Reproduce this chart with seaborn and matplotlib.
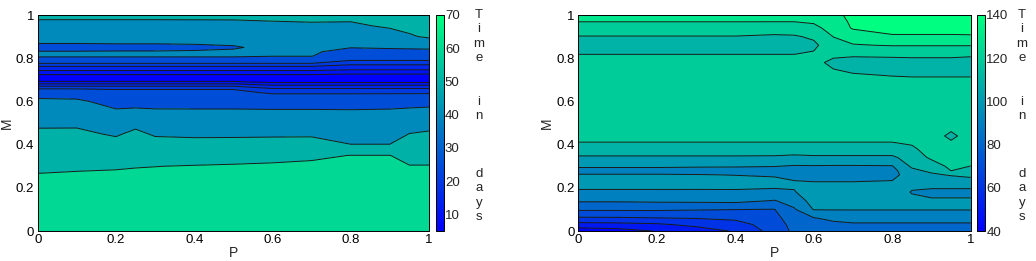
import numpy as np
import matplotlib
matplotlib.use("Agg")
import matplotlib.pyplot as plt
import seaborn as sns
from matplotlib.colors import Normalize
from matplotlib.cm import ScalarMappable

# ---------------------------------------------------------------
# Datos: tiempo (dias) sobre la malla P x M
# ---------------------------------------------------------------
# Panel izquierdo
p_left = [0, 0.1, 0.2, 0.25, 0.3, 0.4, 0.5, 0.6, 0.7, 0.8, 0.9, 0.95, 1.0]
m_left = [0, 0.15, 0.25, 0.3, 0.35, 0.4, 0.45, 0.5, 0.55, 0.6, 0.64, 0.66, 0.675,
          0.69, 0.71, 0.73, 0.75, 0.77, 0.79, 0.81, 0.83, 0.85, 0.87, 0.9, 0.95, 1.0]
# una lista por columna de P (valores de abajo hacia arriba en M)
time_left = [
    [70, 64.4, 60.7, 58.6, 56.2, 53.8, 51.4, 48.7, 45.4, 42.2, 35.6, 23.9, 18.2, 10.6, 6, 11.7, 16.8, 22, 31.6, 42, 40.5, 36, 40.4, 43, 47.4, 52],
    [70, 64.6, 61.1, 59, 56.5, 54, 51.5, 48.7, 45.3, 42, 34.4, 23.9, 18.2, 10.6, 6, 11.7, 16.8, 22, 31.6, 42, 40.5, 36, 40.4, 43, 47.4, 52],
    [70, 64.8, 61.4, 59.3, 55.9, 52.5, 49.1, 45.5, 41.9, 35.7, 28.2, 23.9, 18.2, 10.6, 6, 11.7, 16.8, 22, 31.6, 42, 40.6, 37, 40.6, 43, 47.4, 52],
    [70, 64.9, 61.5, 59.7, 57, 54.3, 51.6, 47.9, 42.8, 35.7, 28.2, 23.9, 18.2, 10.6, 6, 11.7, 16.8, 22, 31.6, 42, 40.6, 37, 40.6, 43, 47.4, 52],
    [70, 65, 61.7, 59.9, 56.1, 52.7, 49.1, 45.5, 41.9, 35.7, 28.2, 23.9, 18.2, 10.6, 6, 11.7, 16.8, 22, 31.6, 42, 40.6, 37, 40.6, 43, 47.4, 52],
    [70, 65.2, 61.9, 60.3, 56.7, 52.5, 48.6, 45.2, 41.8, 35.7, 28.2, 23.9, 18.2, 10.6, 6, 11.7, 16.8, 22, 31.6, 42, 41, 37.5, 41, 43.2, 47.5, 52],
    [70, 65.3, 62.2, 60.6, 57.3, 52.7, 48.6, 45.2, 41.8, 35.7, 28.2, 23.9, 18.2, 10.6, 6, 11.7, 16.8, 22, 31.6, 42, 41.5, 39, 41.5, 43.5, 47.6, 52],
    [70, 65.5, 62.4, 60.9, 58, 53, 48.7, 45.3, 42, 34.3, 23.7, 19.9, 14.9, 9, 6, 11.7, 16.8, 22, 31.6, 40.4, 41.5, 42.7, 43.9, 45.6, 48.5, 52],
    [70, 65.6, 62.6, 61.2, 58.9, 53.3, 48.7, 45.3, 42, 34.3, 23.7, 19.9, 14.9, 9, 6, 11.7, 16.8, 22, 31.6, 40.4, 41.5, 42.7, 43.9, 45.6, 49, 52],
    [70, 65.7, 62.9, 61.4, 60.1, 50.1, 47.2, 44.4, 41.7, 34.3, 23.7, 19.9, 14.9, 9, 6, 10.8, 16, 20.1, 25.1, 30.5, 35.9, 40.4, 42.1, 44.6, 48.8, 52],
    [70, 65.8, 63, 61.5, 60.1, 50.1, 47.3, 44.6, 41.9, 35.3, 23.7, 19.9, 14.9, 9, 6, 10.8, 16, 20.1, 25.1, 31, 37, 41.1, 43.3, 46.7, 51, 52],
    [70, 65.2, 61.9, 60.3, 57.3, 53.7, 50.1, 46.4, 42.7, 35.8, 23.7, 19.9, 14.9, 9, 6, 10.8, 16, 20.1, 25.1, 31, 37, 41.5, 44.6, 49.2, 52, 52],
    [70, 65.2, 61.9, 60.3, 57.4, 54.2, 51, 47.2, 43.2, 36.5, 23.7, 19.9, 14.9, 9, 6, 10.8, 16, 20.1, 25.1, 31, 37, 42, 46, 51, 52, 52],
]
levels_left = [5, 10, 15, 20, 25, 40, 50, 60, 71]
cbar_ticks_left = [10, 20, 30, 40, 50, 60, 70]
crange_left = (5, 70)

# Panel derecho
p_right = [0, 0.1, 0.2, 0.3, 0.4, 0.5, 0.55, 0.6, 0.65, 0.7, 0.8, 0.85, 0.9, 0.95, 1.0]
m_right = [0, 0.03, 0.06, 0.1, 0.14, 0.18, 0.22, 0.26, 0.28, 0.3, 0.34, 0.38, 0.44,
           0.5, 0.6, 0.7, 0.74, 0.78, 0.82, 0.86, 0.9, 0.94, 0.97, 1.0]
time_right = [
    [44, 56.3, 68.8, 81.5, 91.2, 98.2, 104, 100.5, 97, 101.3, 108.4, 116.7, 123, 125, 125, 125, 125, 123.5, 119.8, 116, 119.6, 126, 130.2, 132],
    [46, 57, 69, 81.5, 91.2, 98.2, 104, 100.5, 97, 101.3, 108.4, 116.7, 123, 125, 125, 125, 125, 123.5, 119.8, 116, 119.6, 126, 130.2, 132],
    [50.5, 58.5, 69.8, 81.5, 91.7, 98.2, 104, 100.5, 97, 101.3, 108.4, 116.7, 123, 125, 125, 125, 125, 123.5, 119.8, 116, 119.6, 126, 130.2, 132],
    [55, 62.6, 70.5, 80.8, 92, 98.4, 103.5, 100.3, 96.5, 101, 108.4, 116.7, 123, 125, 125, 125, 125, 123.5, 119.8, 116, 119.6, 126, 130.2, 132],
    [61, 66, 72, 80.2, 92.6, 98.5, 103.5, 99.8, 96.5, 100.8, 108.4, 116.7, 123, 125, 125, 125, 125, 123.5, 119.8, 116, 119.6, 126, 130.2, 132],
    [74, 75, 77, 79.8, 89.5, 97.6, 103.2, 99, 96.5, 100.3, 108.2, 116.7, 123, 125, 125, 125, 125, 123.5, 119.8, 116, 118.5, 125, 130.2, 132],
    [82, 83.5, 85.5, 89, 94, 99.4, 101.5, 97, 96, 99.3, 107, 116.7, 123, 125, 125, 125, 125, 123.5, 119.8, 116, 119, 125, 130.2, 132],
    [84, 86.5, 89.6, 100.5, 104, 105, 101, 96, 96, 99.4, 108, 116.7, 123, 125, 125, 125, 125, 123.5, 121, 118, 121.5, 128, 131, 132],
    [85, 88, 92, 100.5, 104, 105, 101, 96, 96, 99.2, 108, 116.7, 123, 125, 125, 125, 121, 117, 123, 126, 130.2, 133, 135, 138],
    [86, 89, 93, 100.5, 104, 105, 101, 96, 96, 99.2, 108, 116.7, 123, 125, 125, 123, 119, 116, 122, 129.4, 134, 141, 142, 142],
    [86, 89, 93, 100.5, 104, 105, 101.5, 97, 97, 99.5, 108, 116.7, 123, 125, 125, 121.5, 118, 117, 122, 130.5, 139.5, 141.5, 142, 142],
    [86, 89, 93, 100.5, 102, 99.5, 102, 105, 108, 111.5, 115, 118.8, 123, 125, 125, 121, 118, 117.5, 122, 130.5, 139.5, 141.5, 142, 142],
    [86, 89, 93, 100.5, 101, 98, 103, 108.5, 112, 115.5, 121.5, 123, 124, 125, 125, 121, 118, 117.5, 122, 130.5, 139.5, 141.5, 142, 142],
    [86, 89, 93, 100.5, 101, 98, 103, 110.8, 120.2, 122, 123.5, 124, 118, 124, 125, 121, 118, 117.5, 122, 130.5, 139.5, 141.5, 142, 142],
    [86, 89, 93, 100.5, 101, 98, 103, 113, 116.5, 119.9, 122.5, 124, 124, 125, 125, 121, 118, 117, 121.5, 130.5, 139.6, 141.5, 142, 142],
]
levels_right = [40, 50, 60, 70, 80, 90, 100, 110, 120, 130, 140, 150]
cbar_ticks_right = [40, 60, 80, 100, 120, 140]
crange_right = (40, 140)

axis_ticks = [0, 0.2, 0.4, 0.6, 0.8, 1]
axis_ticklabels = ["0", "0.2", "0.4", "0.6", "0.8", "1"]
cbar_label = "T\ni\nm\ne\n\n\ni\nn\n\n\n\nd\na\ny\ns"

# ---------------------------------------------------------------
sns.set_theme(style="white")
plt.rcParams["font.family"] = ["Liberation Sans", "DejaVu Sans"]
plt.rcParams["xtick.direction"] = "in"
plt.rcParams["ytick.direction"] = "in"

cmap = sns.color_palette("winter", as_cmap=True)

W, H = 1036, 261
fig = plt.figure(figsize=(W / 100, H / 100), dpi=100)
fig.patch.set_facecolor("white")


def px(x0, y0, x1, y1):
    """rectangulo en pixeles (origen arriba-izquierda) -> fracciones de figura"""
    return [x0 / W, 1 - y1 / H, (x1 - x0) / W, (y1 - y0) / H]


def panel(ax_rect, cax_rect, label_x, p, m, cols, levels, crange, cticks):
    ax = fig.add_axes(px(*ax_rect))
    cax = fig.add_axes(px(*cax_rect))
    z = np.array(cols).T
    norm = Normalize(vmin=crange[0], vmax=crange[1])
    # como en MATLAB: cada banda toma el color de su nivel inferior
    band_colors = [cmap(norm(min(lv, crange[1]))) for lv in levels[:-1]]
    ax.contourf(p, m, z, levels=levels, colors=band_colors)
    ax.contour(p, m, z, levels=levels[1:-1], colors="#1a1a1a", linewidths=0.7)

    ax.set_xlim(0, 1)
    ax.set_ylim(0, 1)
    ax.set_xticks(axis_ticks)
    ax.set_xticklabels(axis_ticklabels)
    ax.set_yticks(axis_ticks)
    ax.set_yticklabels(axis_ticklabels)
    ax.tick_params(axis="both", which="both", direction="in", length=3, width=0.6,
                   labelsize=9.5, pad=2.5, top=True, right=True, colors="black")
    for s in ax.spines.values():
        s.set_color("black")
        s.set_linewidth(0.7)
    ax.set_xlabel("P", fontsize=10, labelpad=0)
    ax.set_ylabel("M", fontsize=10, labelpad=1.5)

    cb = fig.colorbar(ScalarMappable(norm=norm, cmap=cmap), cax=cax)
    cb.set_ticks(cticks)
    cb.ax.tick_params(direction="in", length=2.5, width=0.6, labelsize=9.5, pad=1,
                      left=True, right=True)
    cb.outline.set_edgecolor("black")
    cb.outline.set_linewidth(0.7)

    fig.text(label_x / W, 1 - 9 / H, cbar_label, ha="center", va="top",
             multialignment="center", fontsize=9.5, linespacing=1.27)
    return ax


panel((37.7, 15, 429, 231), (436, 15, 443.5, 231), 479,
      p_left, m_left, time_left, levels_left, crange_left, cbar_ticks_left)
panel((578.3, 15, 970.7, 231), (977, 15, 985, 231), 1022,
      p_right, m_right, time_right, levels_right, crange_right, cbar_ticks_right)

fig.savefig("out.png", dpi=100)
